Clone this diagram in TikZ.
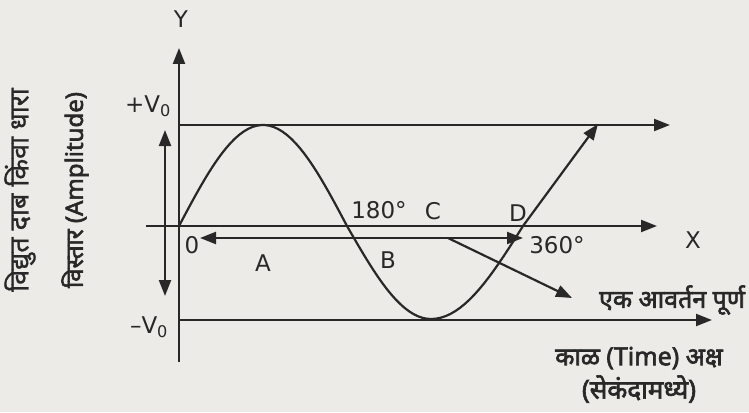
\documentclass[tikz,border=0pt]{standalone}
\usepackage{fontspec}
\setmainfont{DejaVu Sans}
\newfontfamily\deva[Script=Devanagari,AutoFakeBold=1]{Noto Sans}
\newfontfamily\devab[Script=Devanagari,AutoFakeBold=2.5]{Noto Sans}
\usetikzlibrary{arrows.meta}
\definecolor{paper}{RGB}{236,235,231}
\definecolor{ink}{RGB}{40,40,40}

\begin{document}
\begin{tikzpicture}[x=1pt, y=-1pt, color=ink, line width=2.2pt,
	>={Triangle[length=16pt,width=12pt]},
	every node/.style={font=\fontsize{23}{26}\selectfont},
	devbold/.style={font=\devab\bfseries\fontsize{25}{28}\selectfont},
	devreg/.style={font=\deva\bfseries\fontsize{27}{28}\selectfont}]
	\fill[paper] (0,0) rectangle (749,412);
	\useasboundingbox (0,0) rectangle (749,412);
	% points of the axes and guide lines
	\coordinate (Ytop) at (179,48);  \coordinate (Ybot) at (179,362);
	\coordinate (Xl) at (146,226);   \coordinate (Xr) at (657,226);
	\coordinate (Pl) at (179,125);   \coordinate (Pr) at (670,125);
	\coordinate (Nl) at (179,320);   \coordinate (Nr) at (712,320);
	\coordinate (Vt) at (165,130);   \coordinate (Vb) at (165,296);
	\coordinate (Tl) at (200,238);   \coordinate (Tr) at (523,238);
	\coordinate (Cs) at (448,238);   \coordinate (Ce) at (572,298);
	\coordinate (Wend) at (598,124);
	\draw[->] (Ybot) -- (Ytop);
	\draw[->] (Xl) -- (Xr);
	\draw[->] (Pl) -- (Pr);
	\draw[->] (Nl) -- (Nr);
	\draw[<->] (Vb) -- (Vt);
	\draw[<->] (Tl) -- (Tr);
	\draw[->] (Cs) -- (Ce);
	% the wave
	\draw[->] plot[domain=0:180, samples=40] ({179+\x/180*168}, {226-101*sin(\x)})
		-- plot[domain=180:270, samples=20] ({347+(\x-180)/90*84}, {226-93*sin(\x)})
		-- plot[domain=270:360, samples=20] ({431+(\x-270)/90*92}, {226-93*sin(\x)})
		-- (Wend);
	% labels
	\node (ylab) at (181,19) {Y};
	\node (xlab) at (693,240) {X};
	\node (vplus) at (148,106) {+V\textsubscript{0}};
	\node (vminus) at (149,327) {–V\textsubscript{0}};
	\node (zero) at (192,245) {0};
	\node (la) at (263,263) {A};
	\node (lb) at (388,260) {B};
	\node (half) at (379,210) {180°};
	\node (lc) at (433,211) {C};
	\node (ld) at (518,213) {D};
	\node (full) at (557,245) {360°};
	\node[devbold] (cycle) at (672,300) {एक आवर्तन पूर्ण};
	\node[devbold, font=\devab\bfseries\fontsize{25}{28}\selectfont] (timeax) at (639,358) {काळ (Time) अक्ष};
	\node[devbold, font=\devab\bfseries\fontsize{26}{28}\selectfont] (secs) at (639,389) {(सेकंदामध्ये)};
	\node[devreg, rotate=90] (amp1) at (20,190) {विद्युत दाब किंवा धारा};
	\node[devbold, font=\devab\bfseries\fontsize{24}{26}\selectfont, rotate=90] (amp2) at (75,190) {विस्तार (Amplitude)};
\end{tikzpicture}
\end{document}
